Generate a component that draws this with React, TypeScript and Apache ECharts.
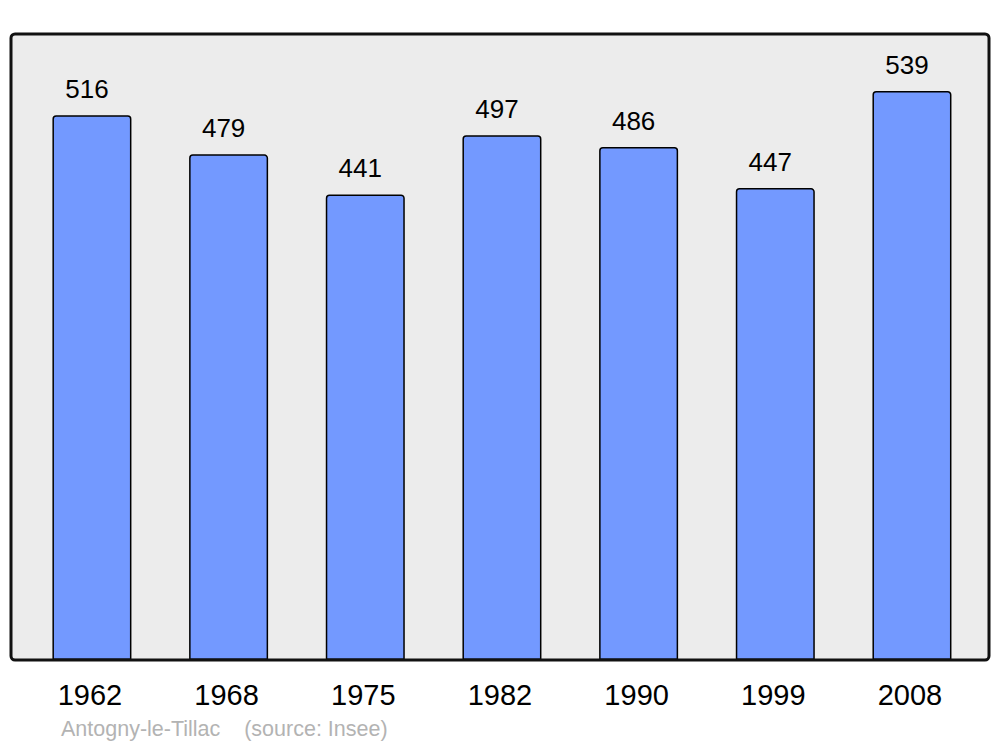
import React, { useEffect, useRef } from "react";
import * as echarts from "echarts";

const years = ["1962", "1968", "1975", "1982", "1990", "1999", "2008"];
const population = [516, 479, 441, 497, 486, 447, 539];
const footerText = "Antogny-le-Tillac    (source: Insee)";

export default function App() {
  const ref = useRef<HTMLDivElement>(null);
  useEffect(() => {
    if (!ref.current) return;
    const chart = echarts.init(ref.current, null, { renderer: "svg" });
    chart.setOption({
      animation: false,
      backgroundColor: "#ffffff",
      textStyle: { fontFamily: "Liberation Sans, Arial, sans-serif" },
      graphic: [
        {
          type: "rect",
          z: -10,
          shape: { x: 11, y: 34, width: 978, height: 626, r: 4 },
          style: { fill: "#ececec", stroke: "none" },
        },
        {
          type: "rect",
          z: 100,
          shape: { x: 11, y: 34, width: 978, height: 626, r: 4 },
          style: { fill: "none", stroke: "#111111", lineWidth: 3 },
        },
        {
          type: "text",
          left: 61,
          top: 718,
          style: {
            text: footerText,
            fill: "#b3b3b3",
            font: "21.5px 'Liberation Sans', Arial, sans-serif",
          },
        },
      ],
      grid: { left: 23.6, right: 19.7, top: 34, bottom: 87, containLabel: false },
      xAxis: {
        type: "category",
        data: years,
        axisLine: { show: false },
        axisTick: { show: false },
        axisLabel: {
          color: "#000",
          fontSize: 29,
          margin: 20,
          fontFamily: "Liberation Sans, Arial, sans-serif",
          padding: [0, 4, 0, 0],
        },
      },
      yAxis: {
        type: "value",
        min: 0,
        max: 593,
        show: false,
        splitLine: { show: false },
      },
      series: [
        {
          type: "bar",
          data: population,
          barWidth: 79,
          itemStyle: {
            color: "#7399ff",
            borderColor: "#000",
            borderWidth: 1.5,
            borderRadius: [3, 3, 0, 0],
          },
          label: {
            show: true,
            position: "top",
            distance: 13,
            offset: [-5, 0],
            color: "#000",
            fontSize: 26,
            fontFamily: "Liberation Sans, Arial, sans-serif",
          },
        },
      ],
    });
    return () => chart.dispose();
  }, []);
  return (
    <div
      ref={ref}
      style={{ position: "absolute", left: 0, top: 0, width: 1000, height: 747 }}
    />
  );
}
